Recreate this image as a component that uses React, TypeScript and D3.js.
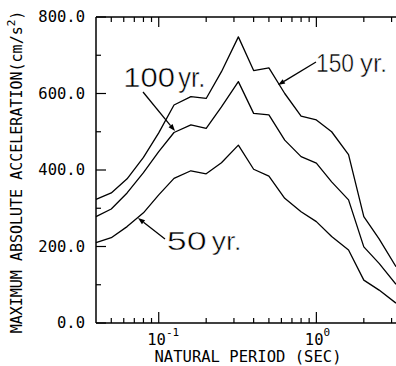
import React from "react";
import * as d3 from "d3";

const periods = [0.04, 0.05, 0.063, 0.08, 0.1, 0.125, 0.16, 0.2, 0.25, 0.32, 0.4, 0.5, 0.63, 0.8, 1.0, 1.25, 1.6, 2.0, 2.5, 3.2];
const acc150 = [323, 340, 377, 433, 497, 570, 592, 587, 657, 748, 660, 667, 600, 541, 531, 500, 440, 278, 220, 147];
const acc100 = [278, 298, 340, 393, 448, 498, 518, 509, 565, 631, 548, 544, 478, 435, 418, 369, 322, 199, 156, 101];
const acc50 = [210, 223, 252, 288, 335, 378, 398, 390, 419, 465, 402, 384, 326, 291, 265, 226, 191, 112, 86, 52];

const yTicks = [0, 100, 200, 300, 400, 500, 600, 700, 800];
const yTickLabels = ["0.0", "200.0", "400.0", "600.0", "800.0"];
const xMinorTicks = [0.05, 0.06, 0.07, 0.08, 0.09, 0.2, 0.3, 0.4, 0.5, 0.6, 0.7, 0.8, 0.9, 2, 3];
const xMajorTicks = [0.1, 1];
const xMajorExp = ["-1", "0"];

const W = 396, H = 366;
const left = 96, right = 396, top = 17, bottom = 323;
const mono = "'DejaVu Sans Mono', monospace";
const sans = "'Liberation Sans', Arial, sans-serif";

export default function App() {
  const x = d3.scaleLog().domain([0.04, 3.2]).range([left, right]);
  const y = d3.scaleLinear().domain([0, 800]).range([bottom, top]);
  const line = d3.line<number>().x((_, i) => x(periods[i])).y((d) => y(d));
  const series = [acc150, acc100, acc50];

  const arrow = (x1: number, y1: number, x2: number, y2: number) => {
    const a = Math.atan2(y2 - y1, x2 - x1);
    const L = 7, Wd = 2.6;
    const bx = x2 - L * Math.cos(a), by = y2 - L * Math.sin(a);
    const px = -Math.sin(a) * Wd, py = Math.cos(a) * Wd;
    return (
      <g>
        <line x1={x1} y1={y1} x2={bx} y2={by} stroke="#000" strokeWidth={1.3} />
        <path d={`M${x2},${y2}L${bx + px},${by + py}L${bx - px},${by - py}Z`} fill="#000" />
      </g>
    );
  };

  const thin = { stroke: "#fff", strokeWidth: 0.5 };

  return (
    <svg width={W} height={H} style={{ position: "absolute", left: 0, top: 0, background: "#fff" }}>
      {/* frame */}
      <line x1={left} y1={top} x2={left} y2={bottom} stroke="#000" strokeWidth={1.5} />
      <line x1={left} y1={bottom} x2={right} y2={bottom} stroke="#000" strokeWidth={1.5} />
      <line x1={left} y1={top} x2={right} y2={top} stroke="#000" strokeWidth={1.5} />

      {/* y ticks */}
      {yTicks.map((v) => (
        <line key={"yt" + v} x1={left} x2={left + (v % 200 === 0 ? 10 : 5)} y1={y(v)} y2={y(v)} stroke="#000" strokeWidth={1.2} />
      ))}
      {yTicks.filter((v) => v % 200 === 0).map((v, i) => (
        <text key={"yl" + v} x={85} y={y(v) + 5} textAnchor="end" fontFamily={mono} fontSize={15.5}>
          {yTickLabels[i]}
        </text>
      ))}

      {/* x ticks bottom & top */}
      {xMinorTicks.map((v) => (
        <g key={"xm" + v}>
          <line x1={x(v)} x2={x(v)} y1={bottom} y2={bottom - 5} stroke="#000" strokeWidth={1.2} />
          <line x1={x(v)} x2={x(v)} y1={top} y2={top + 5} stroke="#000" strokeWidth={1.2} />
        </g>
      ))}
      {xMajorTicks.map((v, i) => (
        <g key={"xM" + v}>
          <line x1={x(v)} x2={x(v)} y1={bottom} y2={bottom - 11} stroke="#000" strokeWidth={1.2} />
          <line x1={x(v)} x2={x(v)} y1={top} y2={top + 10} stroke="#000" strokeWidth={1.2} />
          <text x={x(v) - 11.5} y={345} fontFamily={mono} fontSize={15.5}>
            10
            <tspan dy={-9} fontSize={11}>{xMajorExp[i]}</tspan>
          </text>
        </g>
      ))}

      {/* axis titles */}
      <text x={248} y={362} textAnchor="middle" fontFamily={mono} fontSize={15} textLength={187} lengthAdjust="spacingAndGlyphs">
        NATURAL PERIOD (SEC)
      </text>
      <text transform="translate(21.5,172) rotate(-90)" textAnchor="middle" fontFamily={mono} fontSize={15}>
        MAXIMUM ABSOLUTE ACCELERATION(cm/s
        <tspan dy={-7} fontSize={11}>2</tspan>
        <tspan dy={7}>)</tspan>
      </text>

      {/* curves */}
      {series.map((s, i) => (
        <path key={"s" + i} d={line(s) || ""} fill="none" stroke="#000" strokeWidth={1.3} strokeLinejoin="round" />
      ))}

      {/* labels */}
      <text x={123.3} y={87.3} fontFamily={sans} fontSize={28.5} textLength={51.7} lengthAdjust="spacingAndGlyphs" {...thin}>100</text>
      <text x={178.3} y={87.3} fontFamily={sans} fontSize={28.5} textLength={27} lengthAdjust="spacingAndGlyphs" {...thin}>yr.</text>
      {arrow(143, 92, 175, 131)}

      <text x={316} y={71.7} fontFamily={sans} fontSize={25.5} textLength={38} lengthAdjust="spacingAndGlyphs" {...thin}>150</text>
      <text x={360} y={71.7} fontFamily={sans} fontSize={25.5} textLength={27.3} lengthAdjust="spacingAndGlyphs" {...thin}>yr.</text>
      {arrow(316, 62, 278, 85)}

      <text x={166.7} y={250} fontFamily={sans} fontSize={25.5} textLength={40} lengthAdjust="spacingAndGlyphs" {...thin}>50</text>
      <text x={211.7} y={250} fontFamily={sans} fontSize={25.5} textLength={30} lengthAdjust="spacingAndGlyphs" {...thin}>yr.</text>
      {arrow(165, 239, 138, 218)}
    </svg>
  );
}
